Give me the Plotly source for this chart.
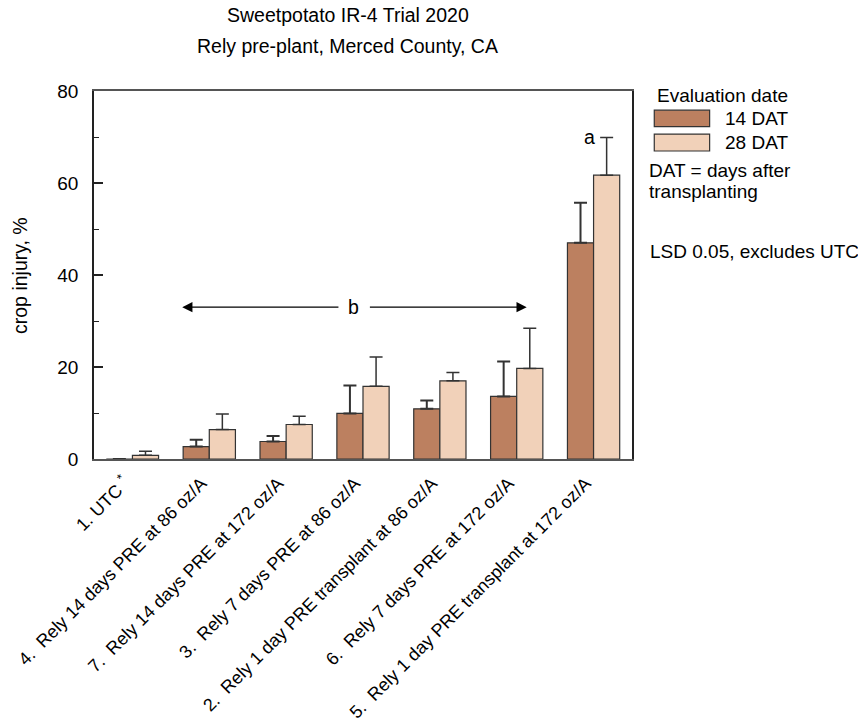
import plotly.graph_objects as go

categories = [
    "1. UTC <sup>*</sup>",
    "4.\u00a0 Rely 14 days PRE at 86 oz/A",
    "7.\u00a0 Rely 14 days PRE at 172 oz/A",
    "3.\u00a0 Rely 7 days PRE at 86 oz/A",
    "2.\u00a0 Rely 1 day PRE transplant at 86 oz/A",
    "6.\u00a0 Rely 7 days PRE at 172 oz/A",
    "5.\u00a0 Rely 1 day PRE transplant at 172 oz/A",
]
dat14 = [0.0, 2.7, 3.8, 9.9, 10.9, 13.6, 47.0]
err14 = [0.0, 1.5, 1.2, 6.1, 1.8, 7.6, 8.7]
dat28 = [0.8, 6.4, 7.5, 15.8, 17.0, 19.7, 61.7]
err28 = [0.9, 3.4, 1.8, 6.4, 1.8, 8.7, 8.2]

c14 = "#BC8060"
c28 = "#F1D1B9"
edge = "#333333"
FONT = "Liberation Sans, Arial, sans-serif"

fig = go.Figure()
fig.add_trace(go.Bar(
    x=categories, y=dat14, name="14 DAT",
    marker=dict(color=c14, line=dict(color=edge, width=1.2)),
    error_y=dict(type="data", array=err14, symmetric=False, arrayminus=[0]*7,
                 color=edge, thickness=2, width=6.5),
))
fig.add_trace(go.Bar(
    x=categories, y=dat28, name="28 DAT",
    marker=dict(color=c28, line=dict(color=edge, width=1.2)),
    error_y=dict(type="data", array=err28, symmetric=False, arrayminus=[0]*7,
                 color=edge, thickness=1.5, width=6.5),
))

fig.update_layout(
    width=858, height=728,
    margin=dict(l=94, r=226, t=91, b=269),
    paper_bgcolor="white", plot_bgcolor="white",
    barmode="group", bargap=0.32, bargroupgap=0,
    showlegend=False,
    font=dict(family=FONT, size=18, color="black"),
)
fig.update_xaxes(
    type="category", range=[-0.5, 6.5], automargin=False,
    showline=True, linecolor="#555555", linewidth=1.5, mirror=True,
    ticks="", tickangle=-45, tickfont=dict(size=18),
    ticklabelshift=-8, ticklabelstandoff=5,
    showgrid=False,
)
fig.update_yaxes(
    range=[0, 80], tickvals=[0, 20, 40, 60, 80], automargin=False,
    showline=True, linecolor="#222222", linewidth=1.5, mirror=True,
    ticks="inside", ticklen=9, tickwidth=1.5, tickcolor="#222222",
    minor=dict(ticks="inside", ticklen=5, tickwidth=1.2, dtick=10, tickcolor="#222222"),
    ticklabelstandoff=10,
    showgrid=False, zeroline=False, tickfont=dict(size=19),
)

# titles
fig.add_annotation(text="Sweetpotato IR-4 Trial 2020", xref="paper", yref="paper",
                   x=0.472, y=1.2065, xanchor="center", yanchor="middle",
                   showarrow=False, font=dict(size=19.5))
fig.add_annotation(text="Rely pre-plant, Merced County, CA", xref="paper", yref="paper",
                   x=0.472, y=1.1223, xanchor="center", yanchor="middle",
                   showarrow=False, font=dict(size=19.5))
fig.add_annotation(text="crop injury, %", xref="paper", yref="paper",
                   x=-0.1376, y=0.5, textangle=-90, xanchor="center", yanchor="middle",
                   showarrow=False, font=dict(size=19.5))

# significance letters and arrows
fig.add_annotation(text="b", x=2.88, y=33, xref="x", yref="y", showarrow=False,
                   font=dict(size=19.5))
fig.add_annotation(x=0.648, y=33, ax=2.70, ay=33, xref="x", yref="y", axref="x", ayref="y",
                   text="", showarrow=True, arrowhead=2, arrowsize=1.7, arrowwidth=1.2,
                   arrowcolor="black")
fig.add_annotation(x=5.13, y=33, ax=3.07, ay=33, xref="x", yref="y", axref="x", ayref="y",
                   text="", showarrow=True, arrowhead=2, arrowsize=1.7, arrowwidth=1.2,
                   arrowcolor="black")
fig.add_annotation(text="a", x=5.95, y=70, xref="x", yref="y", showarrow=False,
                   font=dict(size=19.5))

# custom legend
LF = 19
fig.add_annotation(text="Evaluation date", xref="paper", yref="paper", x=1.0433, y=0.989,
                   xanchor="left", yanchor="middle", showarrow=False, font=dict(size=LF))
fig.add_shape(type="rect", xref="paper", yref="paper", x0=1.0414, x1=1.1443, y0=0.903, y1=0.948,
              fillcolor=c14, line=dict(color=edge, width=1.2))
fig.add_shape(type="rect", xref="paper", yref="paper", x0=1.0414, x1=1.1443, y0=0.837, y1=0.883,
              fillcolor=c28, line=dict(color=edge, width=1.2))
fig.add_annotation(text="14 DAT", xref="paper", yref="paper", x=1.1698, y=0.9266,
                   xanchor="left", yanchor="middle", showarrow=False, font=dict(size=LF))
fig.add_annotation(text="28 DAT", xref="paper", yref="paper", x=1.1698, y=0.860,
                   xanchor="left", yanchor="middle", showarrow=False, font=dict(size=LF))
fig.add_annotation(text="DAT = days after", xref="paper", yref="paper", x=1.0284, y=0.785,
                   xanchor="left", yanchor="middle", showarrow=False, font=dict(size=LF))
fig.add_annotation(text="transplanting", xref="paper", yref="paper", x=1.0284, y=0.726,
                   xanchor="left", yanchor="middle", showarrow=False, font=dict(size=LF))
fig.add_annotation(text="LSD 0.05, excludes UTC", xref="paper", yref="paper", x=1.030, y=0.563,
                   xanchor="left", yanchor="middle", showarrow=False, font=dict(size=LF))

fig.write_html("out.html")
